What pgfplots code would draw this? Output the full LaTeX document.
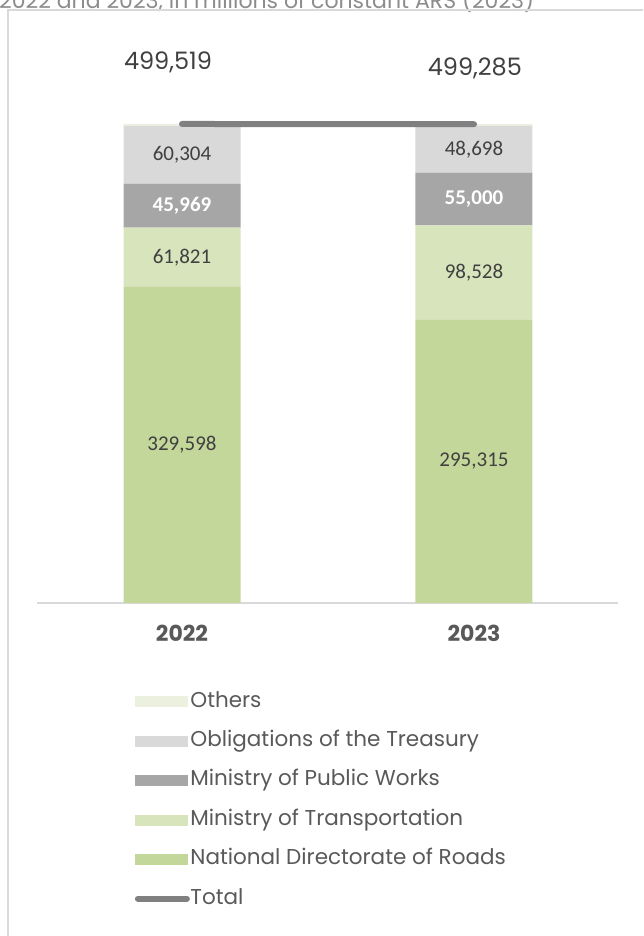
\documentclass[border=0pt]{standalone}
\usepackage{fontspec}
\setmainfont{Poppins}
\newfontfamily\calib{Carlito}
\usepackage{pgfplots}
\pgfplotsset{compat=1.18}
\definecolor{cNDR}{HTML}{C4D79B}
\definecolor{cMoT}{HTML}{D8E4BC}
\definecolor{cMPW}{HTML}{A6A6A6}
\definecolor{cTre}{HTML}{D9D9D9}
\definecolor{cOth}{HTML}{EBF1DE}
\definecolor{cTot}{HTML}{808080}
\definecolor{ctxt}{HTML}{404040}
\definecolor{cleg}{HTML}{595959}
\definecolor{cframe}{HTML}{D9D9D9}
\definecolor{ctitle}{HTML}{8C8C8C}
\pgfplotsset{
  common/.style={
    at={(37pt,333pt)}, anchor=south west,
    scale only axis, width=581pt, height=563pt,
    xmin=-0.4966, xmax=1.4932, ymin=0, ymax=587100,
    clip=false,
  }
}
\tikzset{barlab/.style={font=\calib\fontsize{21}{25}\selectfont, text=ctxt, anchor=center, inner sep=0pt},
  barlabw/.style={font=\calib\bfseries\fontsize{21}{25}\selectfont, text=white, anchor=center, inner sep=0pt}}
\begin{document}
\begin{tikzpicture}[x=1pt,y=1pt]
\useasboundingbox (0,0) rectangle (643,936);
\clip (0,0) rectangle (643,936);
\node[anchor=base west, inner sep=0pt, text=ctitle, font=\fontsize{22}{26}\selectfont] at (-1,927.5) {2022 and 2023, in millions of constant ARS (2023)};
\draw[cframe, line width=1.5pt] (8,-10) -- (8,926) -- (700,926);
\begin{axis}[common,
  ybar stacked, bar width=117pt,
  axis x line*=bottom, axis y line=none, ytick=\empty,
  xtick={0,1}, xticklabels={2022,2023}, major tick length=0pt,
  x axis line style={draw=cframe, line width=1.5pt, -},
  xticklabel style={anchor=center, yshift=-30pt, text=cleg, font=\bfseries\fontsize{22}{26}\selectfont},
]
\addplot[fill=cNDR, draw=none] coordinates {(0,329598) (1,295315)};
\addplot[fill=cMoT, draw=none] coordinates {(0,61821) (1,98528)};
\addplot[fill=cMPW, draw=none] coordinates {(0,45969) (1,55000)};
\addplot[fill=cTre, draw=none] coordinates {(0,60304) (1,48698)};
\addplot[fill=cOth, draw=none] coordinates {(0,1827) (1,1744)};
\end{axis}
\begin{axis}[common, hide axis,
  legend style={at={(0.1678,-0.1563)}, anchor=north west, draw=none, fill=none,
    inner sep=0pt, row sep=18.4pt, column sep=0.5pt,
    font=\fontsize{21.5}{25}\selectfont, text=cleg,
    nodes={inner sep=0pt, text height=16pt, text depth=5pt}},
  legend cell align=left,
]
\addplot[line width=6pt, color=cTot, line cap=round, forget plot] coordinates {(0,499519) (1,499285)};
\node[barlab] at (axis cs:0,164799) {329,598};
\node[barlab] at (axis cs:0,360508) {61,821};
\node[barlabw] at (axis cs:0,414403) {45,969};
\node[barlab] at (axis cs:0,467540) {60,304};
\node[barlab] at (axis cs:1,147657) {295,315};
\node[barlab] at (axis cs:1,344579) {98,528};
\node[barlabw] at (axis cs:1,421343) {55,000};
\node[barlab] at (axis cs:1,473192) {48,698};
\node[font=\fontsize{24}{28}\selectfont, text=ctxt, anchor=center] at (axis cs:-0.048,564130) {499,519};
\node[font=\fontsize{24}{28}\selectfont, text=ctxt, anchor=center] at (axis cs:1.003,557900) {499,285};
\addlegendimage{legend image code/.code={\fill[cOth] (0pt,-5pt) rectangle (52pt,5pt);}}
\addlegendentry{Others}
\addlegendimage{legend image code/.code={\fill[cTre] (0pt,-5pt) rectangle (52pt,5pt);}}
\addlegendentry{Obligations of the Treasury}
\addlegendimage{legend image code/.code={\fill[cMPW] (0pt,-5pt) rectangle (52pt,5pt);}}
\addlegendentry{Ministry of Public Works}
\addlegendimage{legend image code/.code={\fill[cMoT] (0pt,-5pt) rectangle (52pt,5pt);}}
\addlegendentry{Ministry of Transportation}
\addlegendimage{legend image code/.code={\fill[cNDR] (0pt,-5pt) rectangle (52pt,5pt);}}
\addlegendentry{National Directorate of Roads}
\addlegendimage{legend image code/.code={\draw[cTot, line width=6pt, line cap=round] (3pt,0pt) -- (52pt,0pt);}}
\addlegendentry{Total}
\end{axis}
\end{tikzpicture}
\end{document}
